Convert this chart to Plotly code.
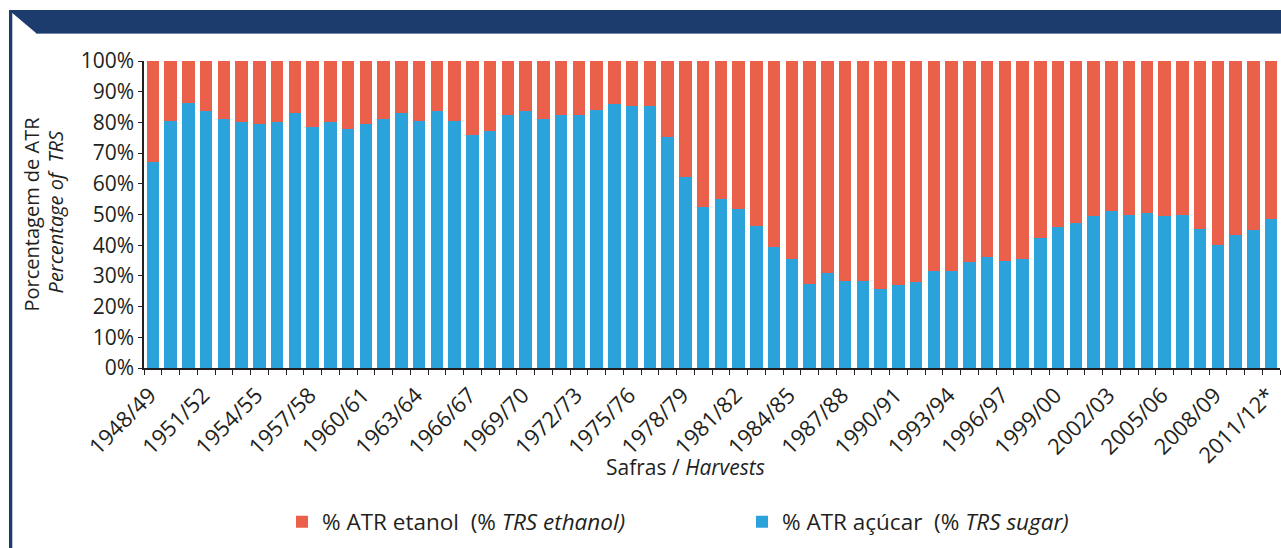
import plotly.graph_objects as go

harvests = [
    "1948/49", "1949/50", "1950/51", "1951/52", "1952/53", "1953/54", "1954/55", "1955/56",
    "1956/57", "1957/58", "1958/59", "1959/60", "1960/61", "1961/62", "1962/63", "1963/64",
    "1964/65", "1965/66", "1966/67", "1967/68", "1968/69", "1969/70", "1970/71", "1971/72",
    "1972/73", "1973/74", "1974/75", "1975/76", "1976/77", "1977/78", "1978/79", "1979/80",
    "1980/81", "1981/82", "1982/83", "1983/84", "1984/85", "1985/86", "1986/87", "1987/88",
    "1988/89", "1989/90", "1990/91", "1991/92", "1992/93", "1993/94", "1994/95", "1995/96",
    "1996/97", "1997/98", "1998/99", "1999/00", "2000/01", "2001/02", "2002/03", "2003/04",
    "2004/05", "2005/06", "2006/07", "2007/08", "2008/09", "2009/10", "2010/11", "2011/12*",
]

sugar_pct = [
    67.2, 80.6, 86.3, 83.6, 81.1, 80.1, 79.6, 80.1, 83.0, 78.4, 80.1, 77.8, 79.6, 81.1, 83.0, 80.6,
    83.6, 80.6, 75.9, 77.2, 82.4, 83.6, 81.1, 82.4, 82.4, 84.2, 85.9, 85.4, 85.4, 75.4, 62.1, 52.4,
    55.1, 51.7, 46.4, 39.5, 35.6, 27.5, 30.9, 28.5, 28.5, 25.7, 26.9, 28.1, 31.6, 31.6, 34.4, 36.1,
    35.0, 35.6, 42.5, 46.0, 47.2, 49.5, 51.2, 50.0, 50.5, 49.5, 50.0, 45.3, 40.2, 43.2, 44.8, 48.4,
]

ethanol_pct = [
    32.8, 19.4, 13.7, 16.4, 18.9, 19.9, 20.4, 19.9, 17.0, 21.6, 19.9, 22.2, 20.4, 18.9, 17.0, 19.4,
    16.4, 19.4, 24.1, 22.8, 17.6, 16.4, 18.9, 17.6, 17.6, 15.8, 14.1, 14.6, 14.6, 24.6, 37.9, 47.6,
    44.9, 48.3, 53.6, 60.5, 64.4, 72.5, 69.1, 71.5, 71.5, 74.3, 73.1, 71.9, 68.4, 68.4, 65.6, 63.9,
    65.0, 64.4, 57.5, 54.0, 52.8, 50.5, 48.8, 50.0, 49.5, 50.5, 50.0, 54.7, 59.8, 56.8, 55.2, 51.6,
]

label_every = 3
y_tick_step = 10

BLUE = "#2CA2DB"
RED = "#EB604A"
NAVY = "#1D3C6E"
AXIS = "#231F20"
TXT = "#231F20"
FONT = "Open Sans"

W, H = 1281, 548
L, R, T, B = 144, 1, 61, 180
PW = W - L - R
PH = H - T - B


def px_x(px):
    return (px - L) / PW


def px_y(py):
    return (H - B - py) / PH


x_idx = list(range(len(harvests)))

fig = go.Figure()
fig.add_trace(go.Bar(
    x=x_idx, y=sugar_pct, name="% ATR açúcar\u00a0\u00a0(% <i>TRS sugar)</i>",
    marker=dict(color=BLUE, line=dict(width=0)),
))
fig.add_trace(go.Bar(
    x=x_idx, y=ethanol_pct, name="% ATR etanol\u00a0\u00a0(% <i>TRS ethanol)</i>",
    marker=dict(color=RED, line=dict(width=0)),
))

tickvals = x_idx[::label_every]
ticktext = harvests[::label_every]

fig.update_layout(
    width=W, height=H,
    margin=dict(l=L, r=R, t=T, b=B, pad=0, autoexpand=False),
    paper_bgcolor="white", plot_bgcolor="white",
    barmode="stack", bargap=0.29,
    font=dict(family=FONT, size=21, color=TXT),
    showlegend=True,
    legend=dict(
        orientation="h", traceorder="reversed",
        x=px_x(282), xanchor="left", y=px_y(522), yanchor="middle",
        entrywidth=415, entrywidthmode="pixels",
        font=dict(family=FONT, size=22.5, color=TXT),
        bgcolor="rgba(0,0,0,0)",
    ),
    xaxis=dict(
        range=[-0.5, len(harvests) - 0.5],
        tickmode="array", tickvals=tickvals, ticktext=ticktext,
        tickangle=-45, ticks="", showgrid=False, zeroline=False,
        showline=True, linecolor=AXIS, linewidth=1.5,
        tickfont=dict(family=FONT, size=22, color=TXT),
        ticklabeloverflow="allow", ticklabelstandoff=4, ticklabelshift=-3,
        automargin=False,
        minor=dict(
            tickmode="array",
            tickvals=[i - 0.5 for i in range(len(harvests) + 1)],
            ticks="outside", ticklen=5, tickwidth=1.2, tickcolor=AXIS, showgrid=False,
        ),
    ),
    yaxis=dict(
        range=[0, 100], tickmode="linear", tick0=0, dtick=y_tick_step,
        ticksuffix="%", ticks="outside", ticklen=4, tickwidth=1.2, tickcolor=AXIS,
        showgrid=False, zeroline=False, automargin=False,
        showline=True, linecolor=AXIS, linewidth=1.5,
        tickfont=dict(family=FONT, size=21, color=TXT),
    ),
)

# axis titles
fig.add_annotation(
    x=px_x(31), y=0.5, xref="paper", yref="paper",
    text="Porcentagem de ATR",
    textangle=-90, showarrow=False, xanchor="center", yanchor="middle",
    font=dict(family=FONT, size=20, color=TXT),
)
fig.add_annotation(
    x=px_x(55), y=0.51, xref="paper", yref="paper",
    text="<i>Percentage of\u00a0\u00a0TRS</i>",
    textangle=-90, showarrow=False, xanchor="center", yanchor="middle",
    font=dict(family=FONT, size=20, color=TXT),
)
fig.add_annotation(
    x=px_x(685), y=px_y(467), xref="paper", yref="paper",
    text="Safras / <i>Harvests</i>",
    showarrow=False, xanchor="center", yanchor="middle",
    font=dict(family=FONT, size=21, color=TXT),
)

# header band with cut corner and left border
x0, x1 = px_x(9), px_x(1281)
ytop, ybot = px_y(10), px_y(33)
fig.add_shape(
    type="path", xref="paper", yref="paper",
    path=(f"M {x0} {ytop} L {x1} {ytop} L {x1} {ybot} L {px_x(36)} {ybot} "
          f"L {px_x(12.3)} {px_y(13)} L {px_x(12.3)} {px_y(548)} L {x0} {px_y(548)} Z"),
    fillcolor=NAVY, line=dict(width=0), layer="above",
)
fig.add_shape(
    type="line", xref="paper", yref="paper",
    x0=px_x(36), x1=x1, y0=px_y(33.5), y1=px_y(33.5),
    line=dict(color="#6F86A8", width=1),
)

fig.write_html(
    "out.html",
    config={"displayModeBar": False},
    post_script="document.body.style.margin='0px';",
)
